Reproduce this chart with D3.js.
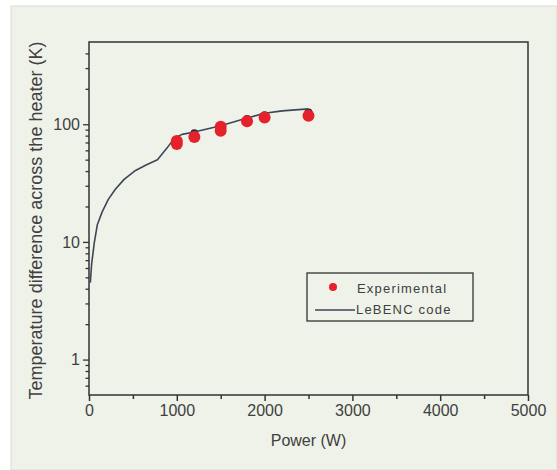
<!DOCTYPE html>
<html>
<head>
<meta charset="utf-8">
<script src="https://cdn.jsdelivr.net/npm/d3@7"></script>
<style>
  html, body { margin: 0; padding: 0; background: #ffffff; }
  svg { display: block; }
  text { font-family: "Liberation Sans", Arial, sans-serif; fill: #404040; }
</style>
</head>
<body>
<svg id="chart" width="557" height="470"></svg>
<script>
// LeBENC code prediction of the temperature rise across the heater
const codePower = [15, 30, 60, 95, 150, 220, 300, 400, 530, 650, 780, 890, 960, 1000, 1060, 1200, 1500, 1800, 2000, 2200, 2500];
const codeDeltaT = [4.5, 6.5, 9.8, 14, 18, 23, 28, 34, 40.5, 45, 50, 63, 74, 78, 82, 86, 97, 113, 124, 130, 135];

// Measured temperature differences (repeated runs at some powers)
const expPower = [1000, 1000, 1200, 1500, 1500, 1800, 2000, 2500];
const expDeltaT = [68, 72, 78, 88, 95, 106, 114, 118];

// Points where code markers peek out behind the measurements
const codeMarkPower = [1200, 1800, 2000, 2500];
const codeMarkDeltaT = [84, 111, 119, 126];

const xTicks = [0, 1000, 2000, 3000, 4000, 5000];
const xMinorTicks = [500, 1500, 2500, 3500, 4500];
const yTicks = [1, 10, 100];
const yMinorTicks = [0.6, 0.7, 0.8, 0.9, 2, 3, 4, 5, 6, 7, 8, 9, 20, 30, 40, 50, 60, 70, 80, 90, 200, 300, 400];

const legendLabels = ["Experimental", "LeBENC code"];

const svg = d3.select("#chart");
const W = 557, H = 470;
const m = { left: 89, right: 29, top: 42, bottom: 75 };

// panel background
svg.append("rect").attr("x", 11).attr("y", 6).attr("width", W - 11).attr("height", H - 6)
  .attr("fill", "#eef2e9").attr("stroke", "#d9ded5").attr("stroke-width", 1);

const x = d3.scaleLinear().domain([0, 5000]).range([m.left, W - m.right]);
const y = d3.scaleLog().domain([0.5, 500]).range([H - m.bottom, m.top]);

const axisColor = "#333";

// frame
svg.append("rect")
  .attr("x", x(0)).attr("y", y(500))
  .attr("width", x(5000) - x(0)).attr("height", y(0.5) - y(500))
  .attr("fill", "none").attr("stroke", axisColor).attr("stroke-width", 1.5);

// x axis
const gx = svg.append("g").attr("transform", `translate(0,${y(0.5)})`)
  .call(d3.axisBottom(x).tickValues(xTicks).tickSize(6).tickPadding(4).tickFormat(d3.format("d")));
gx.append("g").call(d3.axisBottom(x).tickValues(xMinorTicks).tickSize(4).tickFormat(""));
gx.selectAll(".domain").remove();
gx.selectAll("line").attr("stroke", axisColor).attr("stroke-width", 1.5);
gx.selectAll("text").style("font-size", "16px").attr("fill", "#404040");

// y axis
const gy = svg.append("g").attr("transform", `translate(${x(0)},0)`)
  .call(d3.axisLeft(y).tickValues(yTicks).tickSize(6).tickPadding(3).tickFormat(d3.format("d")));
gy.append("g").call(d3.axisLeft(y).tickValues(yMinorTicks).tickSize(3.5).tickFormat(""));
gy.selectAll(".domain").remove();
gy.selectAll("line").attr("stroke", axisColor).attr("stroke-width", 1.3);
gy.selectAll("text").style("font-size", "16px").attr("fill", "#404040");

// axis titles
svg.append("text")
  .attr("x", (x(0) + x(5000)) / 2).attr("y", 446)
  .attr("text-anchor", "middle").style("font-size", "16px")
  .text("Power (W)");
svg.append("text")
  .attr("transform", `translate(42,${(y(0.5) + y(500)) / 2 + 2}) rotate(-90)`)
  .attr("text-anchor", "middle").style("font-size", "18px")
  .text("Temperature difference across the heater (K)");

// code markers
svg.append("g").selectAll("circle")
  .data(codeMarkPower.map((p, i) => [p, codeMarkDeltaT[i]]))
  .join("circle")
  .attr("cx", d => x(d[0])).attr("cy", d => y(d[1])).attr("r", 4)
  .attr("fill", "#2b2b33");

// code line
const line = d3.line().x(d => x(d[0])).y(d => y(d[1]));
svg.append("path")
  .datum(codePower.map((p, i) => [p, codeDeltaT[i]]))
  .attr("d", line)
  .attr("fill", "none").attr("stroke", "#3d4656").attr("stroke-width", 1.6)
  .attr("stroke-linejoin", "round");

// experimental points
svg.append("g").selectAll("circle")
  .data(expPower.map((p, i) => [p, expDeltaT[i]]))
  .join("circle")
  .attr("cx", d => x(d[0])).attr("cy", d => y(d[1])).attr("r", 6)
  .attr("fill", "#e5222b");

// legend
const lg = svg.append("g");
lg.append("rect").attr("x", 307).attr("y", 273).attr("width", 166).attr("height", 48)
  .attr("fill", "none").attr("stroke", axisColor).attr("stroke-width", 1.3);
lg.append("circle").attr("cx", 333).attr("cy", 287).attr("r", 4).attr("fill", "#e5222b");
lg.append("line").attr("x1", 315).attr("x2", 355).attr("y1", 310).attr("y2", 310)
  .attr("stroke", "#3d4656").attr("stroke-width", 1.6);
lg.append("text").attr("x", 357).attr("y", 293).style("font-size", "13px")
  .style("letter-spacing", "1.2px").text(legendLabels[0]);
lg.append("text").attr("x", 356).attr("y", 314).style("font-size", "13px")
  .style("letter-spacing", "1.2px").text(legendLabels[1]);
</script>
</body>
</html>
